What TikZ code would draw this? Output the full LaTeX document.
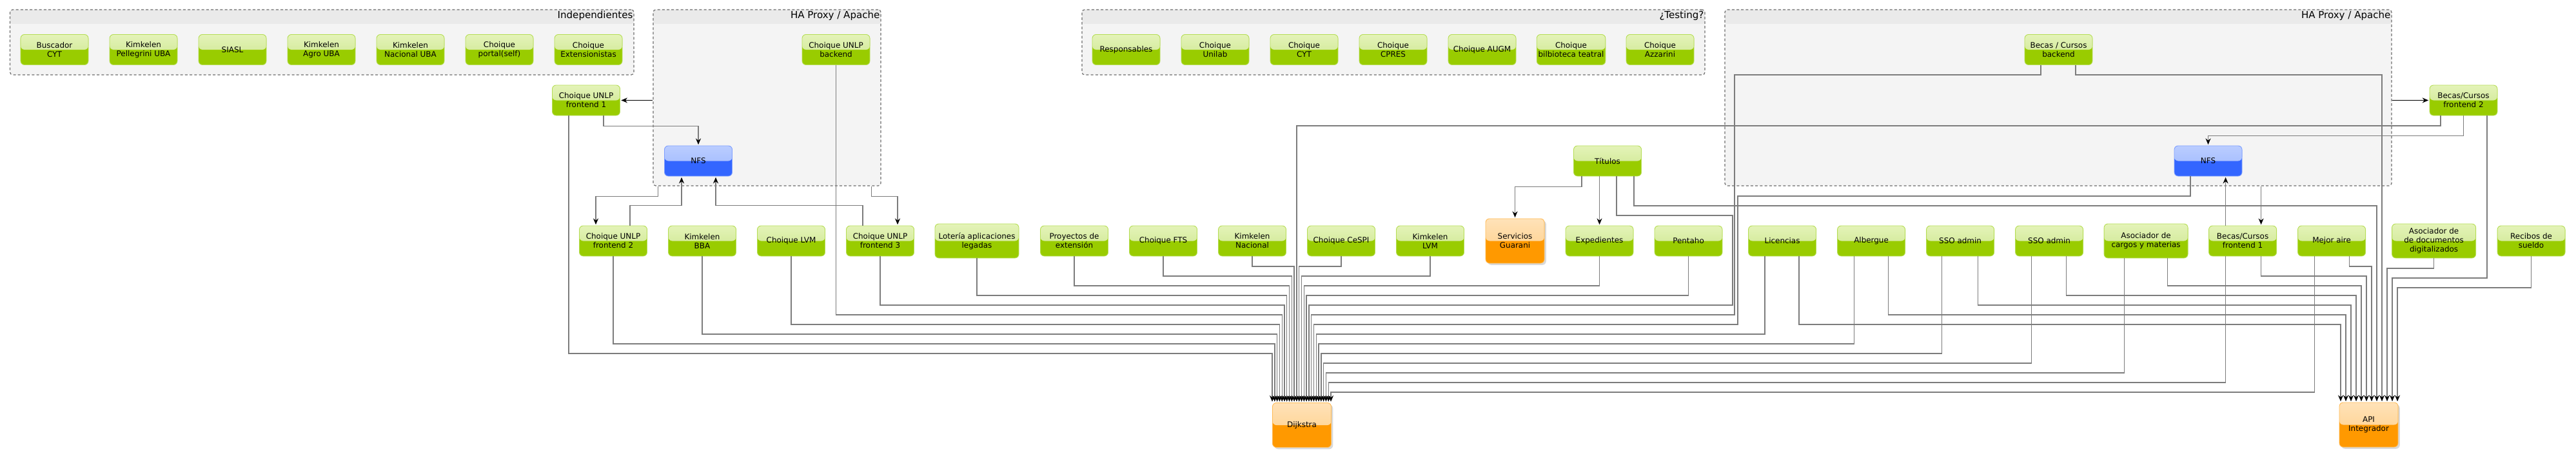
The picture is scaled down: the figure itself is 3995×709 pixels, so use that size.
\documentclass[tikz,border=0pt]{standalone}
\usepackage{fontspec}
\setmainfont{DejaVu Sans}
\usetikzlibrary{arrows.meta,positioning,calc,shadows}

\definecolor{appdark}{HTML}{99CC00}
\definecolor{apptop}{HTML}{E4F3B8}
\definecolor{appmid}{HTML}{C9E58A}
\definecolor{appedge}{HTML}{B5DD55}
\definecolor{nfsdark}{HTML}{3366FF}
\definecolor{nfstop}{HTML}{BACDFF}
\definecolor{nfsmid}{HTML}{9BB5FF}
\definecolor{nfsedge}{HTML}{7F9FFF}
\definecolor{outdark}{HTML}{FF9900}
\definecolor{outtop}{HTML}{FFE2B8}
\definecolor{outmid}{HTML}{FFCC80}
\definecolor{outedge}{HTML}{FFBB55}
\definecolor{groupfill}{HTML}{F4F4F4}
\definecolor{headfill}{HTML}{EAEAEA}
\definecolor{groupedge}{HTML}{6E6E6E}
\definecolor{linkgray}{HTML}{7C7C7C}

\newcommand{\appfont}{\fontsize{8.5}{10}\selectfont}
\newcommand{\grptitlefont}{\fontsize{10.7}{12}\selectfont}

\begin{document}
\begin{tikzpicture}[x=0.25mm,y=-0.25mm,shorten >=1pt,node distance=34.5mm,
            >={Stealth[length=2.4mm,width=2mm,inset=0.8mm,color=black]},
            tint/.style 2 args={path picture={\fill[top color=#1,bottom color=#2]
                (path picture bounding box.north west) rectangle (path picture bounding box.east);}},
            boxbase/.style={rectangle,rounded corners=1.5mm,line width=0.6pt,
                minimum width=26.25mm,minimum height=11.75mm,inner sep=0.6mm,align=center,font=\appfont},
            app/.style={boxbase,draw=appedge,fill=appdark,tint={apptop}{appmid}},
            nfs/.style={boxbase,draw=nfsedge,fill=nfsdark,tint={nfstop}{nfsmid}},
            outbox/.style={boxbase,draw=outedge,fill=outdark,tint={outtop}{outmid},
                minimum width=22.75mm,minimum height=17.25mm,
                drop shadow={shadow xshift=0.7mm,shadow yshift=-0.7mm,opacity=0.3}},
            wide/.style={minimum width=32.5mm,minimum height=13.25mm},
            groupbox/.style={draw=groupedge,line width=0.3mm,dash pattern=on 1mm off 0.8mm,
                rounded corners=1mm,fill=groupfill,inner sep=0pt,
                path picture={\fill[headfill] (path picture bounding box.north west)
                    rectangle ([yshift=-5.5mm]path picture bounding box.north east);}},
            grouptitle/.style={anchor=north east,font=\grptitlefont,inner sep=0.5mm},
            link/.style={->,draw=linkgray,line width=0.35mm},
            hop/.style={link,draw=black}]

        \useasboundingbox (0,0) rectangle (3995,709);

        % Define groups
        \node[groupbox,minimum width=241.85mm,minimum height=25.25mm,
            label={[grouptitle]north east:Independientes}] (indep) at (499.3,65.5) {};
        \node[groupbox,minimum width=88.25mm,minimum height=68.25mm,
            label={[grouptitle]north east:HA Proxy / Apache}] (haone) at (1189.5,151.5) {};
        \node[groupbox,minimum width=241.5mm,minimum height=25.25mm,
            label={[grouptitle]north east:¿Testing?}] (testing) at (2161,65.5) {};
        \node[groupbox,minimum width=258.5mm,minimum height=68.25mm,
            label={[grouptitle]north east:HA Proxy / Apache}] (hados) at (3192,151.5) {};

        % Define vertices
        \node[app] (buscador) at (84.5,77) {Buscador\\CYT};
        \node[app] (pellegrini) [right of=buscador] {Kimkelen\\Pellegrini UBA};
        \node[app] (siasl) [right of=pellegrini] {SIASL};
        \node[app] (agro) [right of=siasl] {Kimkelen\\Agro UBA};
        \node[app] (nacuba) [right of=agro] {Kimkelen\\Nacional UBA};
        \node[app] (portal) [right of=nacuba] {Choique\\portal(self)};
        \node[app] (extensionistas) [right of=portal] {Choique\\Extensionistas};

        \node[app] (unlpback) at (1296.5,77) {Choique UNLP\\backend};
        \node[app] (feone) at (909,155.5) {Choique UNLP\\frontend 1};
        \node[nfs] (nfsone) at (1083,249.5) {NFS};

        \node[app] (responsables) at (1746.5,77) {Responsables};
        \node[app] (unilab) [right of=responsables] {Choique\\Unilab};
        \node[app] (cyt) [right of=unilab] {Choique\\CYT};
        \node[app] (cpres) [right of=cyt] {Choique\\CPRES};
        \node[app] (augm) [right of=cpres] {Choique AUGM};
        \node[app] (biblio) [right of=augm] {Choique\\bilbioteca teatral};
        \node[app] (azzarini) [right of=biblio] {Choique\\Azzarini};

        \node[app] (titulos) at (2493,249.5) {Títulos};
        \node[app] (becasback) at (3192.5,77) {Becas / Cursos\\backend};
        \node[nfs] (nfsdos) at (3424.5,249.5) {NFS};
        \node[app] (becasfedos) at (3820.5,155.5) {Becas/Cursos\\frontend 2};

        \node[app] (fetwo) at (951,373.5) {Choique UNLP\\frontend 2};
        \node[app] (bba) [right of=fetwo] {Kimkelen\\BBA};
        \node[app] (lvm) [right of=bba] {Choique LVM};
        \node[app] (fetres) [right of=lvm] {Choique UNLP\\frontend 3};
        \node[app,wide] (loteria) [right of=fetres,node distance=37.5mm] {Lotería aplicaciones\\legadas};
        \node[app] (proyectos) [right of=loteria,node distance=37.75mm] {Proyectos de\\extensión};
        \node[app] (fts) [right of=proyectos] {Choique FTS};
        \node[app] (kimnac) [right of=fts] {Kimkelen\\Nacional};
        \node[app] (cespi) [right of=kimnac] {Choique CeSPI};
        \node[app] (kimlvm) [right of=cespi] {Kimkelen\\LVM};
        \node[outbox] (guarani) [right of=kimlvm,node distance=32.875mm] {Servicios\\Guarani};
        \node[app] (expedientes) [right of=guarani,node distance=32.75mm] {Expedientes};
        \node[app] (pentaho) [right of=expedientes] {Pentaho};
        \node[app] (licencias) [right of=pentaho,node distance=36.375mm] {Licencias};
        \node[app] (albergue) [right of=licencias] {Albergue};
        \node[app] (ssouno) [right of=albergue] {SSO admin};
        \node[app] (ssodos) [right of=ssouno] {SSO admin};
        \node[app,wide] (asoccargos) [right of=ssodos,node distance=37.5mm] {Asociador de\\cargos y materias};
        \node[app] (becasfeuno) [right of=asoccargos,node distance=37.5mm] {Becas/Cursos\\frontend 1};
        \node[app] (mejoraire) [right of=becasfeuno] {Mejor aire};
        \node[app,wide] (asocdocs) [right of=mejoraire,node distance=39.625mm] {Asociador de\\de documentos\\digitalizados};
        \node[app] (recibos) [right of=asocdocs,node distance=37.75mm] {Recibos de\\sueldo};

        \node[outbox] (dijkstra) at (2019,659) {Dijkstra};
        \node[outbox] (api) at (3673.5,658.5) {API\\Integrador};

        \coordinate (bfleft) at ($(becasfeuno.north)+(-26.5,0)$);
        \coordinate (bfright) at ($(becasfeuno.north)+(28.5,0)$);

        % Draw edges
        \draw[hop] (haone.west |- feone.east) -- (feone.east);
        \draw[link] ($(haone.south west)+(8,0)$) -- ++(0,16) -| ($(fetwo.north)+(-27,0)$);
        \draw[link] ($(haone.south east)+(-15,0)$) -- ++(0,16) -| ($(fetres.north)+(27,0)$);
        \draw[link] ($(feone.south)+(27,0)$) -- ++(0,16) -| (nfsone.north);
        \draw[link] ($(fetwo.north)+(26,0)$) -- ++(0,-31) -| ($(nfsone.south)+(-26,0)$);
        \draw[link] ($(fetres.north)+(-27,0)$) -- ++(0,-31) -| ($(nfsone.south)+(27,0)$);

        \draw[hop] (hados.east |- becasfedos.west) -- (becasfedos.west);
        \draw[link] (bfright |- hados.south) -- (bfright);
        \draw[link] (becasfedos.south) -- ++(0,31) -| (nfsdos.north);
        \draw[link] (bfleft) -- (bfleft |- nfsdos.south);

        \draw[link] ($(titulos.south)+(-40,0)$) -- ++(0,16) -| (guarani.north);
        \draw[link] (expedientes.north |- titulos.south) -- (expedientes.north);

        % Edges into Dijkstra
        \draw[link] ($(feone.south)+(-27,0)$) |- (1973,548) -- (1973,0 |- dijkstra.north);
        \draw[link] (fetwo.south) |- (1976.8,533) -- (1976.8,0 |- dijkstra.north);
        \draw[link] (bba.south) |- (1980.6,518) -- (1980.6,0 |- dijkstra.north);
        \draw[link] (lvm.south) |- (1984.4,503) -- (1984.4,0 |- dijkstra.north);
        \draw[link] (unlpback.south) |- (1988.2,488) -- (1988.2,0 |- dijkstra.north);
        \draw[link] (fetres.south) |- (1992,473) -- (1992,0 |- dijkstra.north);
        \draw[link] (loteria.south) |- (1995.7,458) -- (1995.7,0 |- dijkstra.north);
        \draw[link] (proyectos.south) |- (1999.5,443) -- (1999.5,0 |- dijkstra.north);
        \draw[link] (fts.south) |- (2003.3,428) -- (2003.3,0 |- dijkstra.north);
        \draw[link] (kimnac.south) |- (2007.1,413) -- (2007.1,0 |- dijkstra.north);
        \draw[link] ($(becasfedos.south)+(-35.5,0)$) |- (2010.9,195) -- (2010.9,0 |- dijkstra.north);
        \draw[link] (cespi.south) |- (2014.7,413) -- (2014.7,0 |- dijkstra.north);
        \draw[link] (kimlvm.south) |- (2018.5,428) -- (2018.5,0 |- dijkstra.north);
        \draw[link] (expedientes.south) |- (2022.3,443) -- (2022.3,0 |- dijkstra.north);
        \draw[link] (pentaho.south) |- (2026.1,458) -- (2026.1,0 |- dijkstra.north);
        \draw[link] ($(titulos.south)+(14,0)$) |- (2687,334) |- (2029.9,473) -- (2029.9,0 |- dijkstra.north);
        \draw[link] ($(becasback.south)+(-27.5,0)$) |- (2690,116) |- (2033.6,488) -- (2033.6,0 |- dijkstra.north);
        \draw[link] ($(nfsdos.south)+(-27.5,0)$) |- (2695,304) |- (2037.4,503) -- (2037.4,0 |- dijkstra.north);
        \draw[link] ($(licencias.south)+(-27,0)$) |- (2041.2,518) -- (2041.2,0 |- dijkstra.north);
        \draw[link] ($(albergue.south)+(-26.5,0)$) |- (2045,533) -- (2045,0 |- dijkstra.north);
        \draw[link] ($(ssouno.south)+(-28.5,0)$) |- (2048.8,548) -- (2048.8,0 |- dijkstra.north);
        \draw[link] ($(ssodos.south)+(-27.5,0)$) |- (2052.6,563) -- (2052.6,0 |- dijkstra.north);
        \draw[link] ($(asoccargos.south)+(-33.5,0)$) |- (2056.4,578) -- (2056.4,0 |- dijkstra.north);
        \draw[link] ($(becasfeuno.south)+(-26.5,0)$) |- (2060.2,593) -- (2060.2,0 |- dijkstra.north);
        \draw[link] ($(mejoraire.south)+(-26.5,0)$) |- (2064,608) -- (2064,0 |- dijkstra.north);

        % Edges into API Integrador
        \draw[link] ($(licencias.south)+(26,0)$) |- (3630,503) -- (3630,0 |- api.north);
        \draw[link] ($(albergue.south)+(26.5,0)$) |- (3638,488) -- (3638,0 |- api.north);
        \draw[link] ($(ssouno.south)+(27.5,0)$) |- (3646,473) -- (3646,0 |- api.north);
        \draw[link] ($(ssodos.south)+(26.5,0)$) |- (3654,458) -- (3654,0 |- api.north);
        \draw[link] ($(asoccargos.south)+(33.5,0)$) |- (3662,443) -- (3662,0 |- api.north);
        \draw[link] ($(becasfeuno.south)+(28.5,0)$) |- (3670,428) -- (3670,0 |- api.north);
        \draw[link] ($(mejoraire.south)+(27.5,0)$) |- (3678,413) -- (3678,0 |- api.north);
        \draw[link] ($(titulos.south)+(41,0)$) |- (3686,319) -- (3686,0 |- api.north);
        \draw[link] ($(becasback.south)+(26.5,0)$) |- (3694,116) -- (3694,0 |- api.north);
        \draw[link] (asocdocs.south) |- (3702,416) -- (3702,0 |- api.north);
        \draw[link] ($(becasfedos.south)+(36.5,0)$) |- (3710,431) -- (3710,0 |- api.north);
        \draw[link] (recibos.south) |- (3718,446) -- (3718,0 |- api.north);

        \end{tikzpicture}
\end{document}
